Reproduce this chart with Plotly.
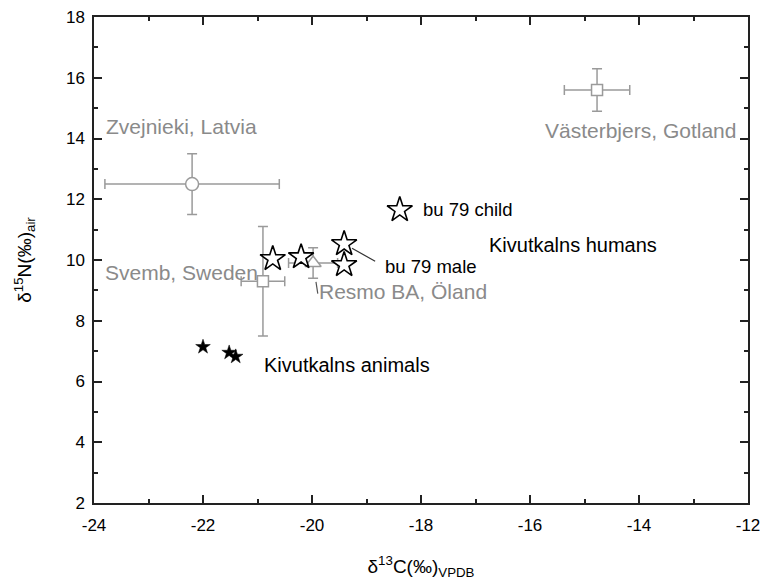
import plotly.graph_objects as go

# Reference groups (grey, with error bars)
ref_names = ["Zvejnieki, Latvia", "Svemb, Sweden", "Resmo BA, Öland", "Västerbjers, Gotland"]
ref_c = [-22.2, -20.9, -19.98, -14.77]
ref_n = [12.5, 9.3, 9.9, 15.6]
ref_c_err = [1.6, 0.4, 0.45, 0.6]
ref_n_err = [1.0, 1.8, 0.5, 0.7]
ref_symbols = ["circle", "square", "triangle-up", "square"]
ref_sizes = [13, 11, 14, 11]
ref_label_c = [-23.82, -23.83, -19.91, -15.76]
ref_label_n = [14.38, 9.58, 8.95, 14.25]

# Kivutkalns humans
hum_c = [-20.72, -20.2, -19.41, -19.41, -18.39]
hum_n = [10.04, 10.1, 10.53, 9.84, 11.65]

# Kivutkalns animals
ani_c = [-22.0, -21.52, -21.4]
ani_n = [7.14, 6.95, 6.82]

# ticks
x_ticks = [-24, -22, -20, -18, -16, -14, -12]
x_ticktext = ["-24", "-22", "-20", "-18", "-16", "-14", "-12"]
y_ticks = [2, 4, 6, 8, 10, 12, 14, 16, 18]

GREY = "#9a9a9a"
FONT = "Arial, Liberation Sans, sans-serif"

fig = go.Figure()

for i in range(len(ref_names)):
    fig.add_trace(go.Scatter(
        x=[ref_c[i]], y=[ref_n[i]], mode="markers",
        marker=dict(symbol=ref_symbols[i], size=ref_sizes[i], color="white",
                    line=dict(color=GREY, width=1.5)),
        error_x=dict(type="data", array=[ref_c_err[i]], color=GREY, thickness=1.5, width=5),
        error_y=dict(type="data", array=[ref_n_err[i]], color=GREY, thickness=1.5, width=5),
        showlegend=False, hoverinfo="skip"))

fig.add_trace(go.Scatter(
    x=hum_c, y=hum_n, mode="markers",
    marker=dict(symbol="star", size=19, color="white", line=dict(color="black", width=1.6)),
    showlegend=False))

fig.add_trace(go.Scatter(
    x=ani_c, y=ani_n, mode="markers",
    marker=dict(symbol="star", size=11, color="black", line=dict(color="black", width=0.5)),
    showlegend=False))

for i in range(len(ref_names)):
    fig.add_annotation(x=ref_label_c[i], y=ref_label_n[i], text=ref_names[i],
                       xanchor="left", yanchor="middle", showarrow=False,
                       font=dict(family=FONT, size=21, color="#8a8a8a"))

fig.add_annotation(x=-16.79, y=10.5, text="Kivutkalns humans", xanchor="left",
                   yanchor="middle", showarrow=False, font=dict(family=FONT, size=20, color="black"))
fig.add_annotation(x=-20.92, y=6.55, text="Kivutkalns animals", xanchor="left",
                   yanchor="middle", showarrow=False, font=dict(family=FONT, size=20, color="black"))
fig.add_annotation(x=-18.0, y=11.65, text="bu 79 child", xanchor="left",
                   yanchor="middle", showarrow=False, font=dict(family=FONT, size=18.5, color="black"))
fig.add_annotation(x=-18.7, y=9.78, text="bu 79 male", xanchor="left",
                   yanchor="middle", showarrow=False, font=dict(family=FONT, size=18.5, color="black"))

# leader lines
fig.add_annotation(x=hum_c[2], y=hum_n[2], text=" ", showarrow=True, arrowhead=0,
                   arrowwidth=1.2, arrowcolor="#333333", ax=34, ay=19, standoff=9)
fig.add_annotation(x=ref_c[2], y=ref_n[2], text=" ", showarrow=True, arrowhead=0,
                   arrowwidth=1.2, arrowcolor="#555555", ax=6, ay=39, standoff=19)

axis_common = dict(showline=True, linewidth=1.5, linecolor="#222222", mirror="ticks",
                   ticks="inside", ticklen=8, tickwidth=1.5, tickcolor="#222222",
                   showgrid=False, zeroline=False, ticklabeloverflow="allow",
                   tickfont=dict(family=FONT, size=17, color="black"),
                   minor=dict(ticks="inside", ticklen=4, tickwidth=1.5, tickcolor="#222222", dtick=1))

fig.update_xaxes(range=[-24, -12], tickmode="array", tickvals=x_ticks, ticktext=x_ticktext,
                 ticklabelstandoff=6, **axis_common,
                 title=dict(text="δ<sup>13</sup>C(‰)<sub>VPDB</sub>",
                            font=dict(family=FONT, size=19, color="black"), standoff=26))
fig.update_yaxes(range=[2, 18], tickmode="array", tickvals=y_ticks,
                 ticklabelstandoff=4, **axis_common,
                 title=dict(text="δ<sup>15</sup>N(‰)<sub>air</sub>",
                            font=dict(family=FONT, size=19, color="black"), standoff=29))

# page body has an 8px margin, so the figure is 760x578 placed at (8, 8)
fig.update_layout(width=760, height=578, plot_bgcolor="white", paper_bgcolor="white",
                  margin=dict(l=86, r=20, t=9, b=83, autoexpand=False), font=dict(family=FONT))

fig.write_html("out.html")
